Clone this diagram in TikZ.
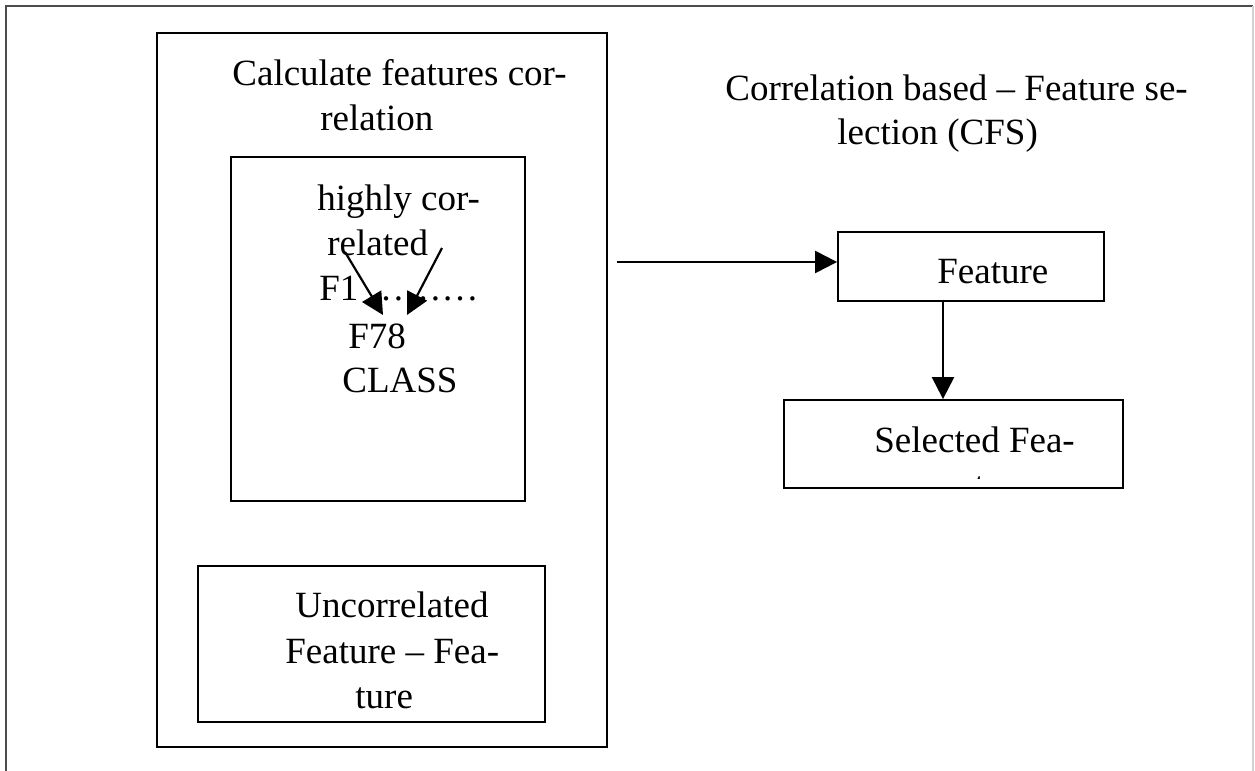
\documentclass[tikz,border=0pt]{standalone}
\usepackage{fontspec}
\setmainfont{Liberation Serif}
\usepackage{tikz}
\usetikzlibrary{arrows.meta}

\begin{document}
\begin{tikzpicture}[x=0.5pt, y=-0.5pt,
        font=\fontsize{18.5}{22.5}\selectfont,
        box/.style={draw, line width=0.9pt, inner sep=0pt},
        arr/.style={draw, line width=1.1pt, -{Triangle[length=11pt, width=11pt]}},
        word/.style={anchor=base west, inner sep=0pt}]
        \useasboundingbox (0,0) rectangle (1255,771);
        \path[draw, gray!60!black, line width=1.4pt] (6,780) -- (6,6) -- (1253,6);
        \path[draw, gray!35, line width=0.8pt] (1253,6) -- (1253,780);

        \node[box, minimum width=225pt, minimum height=357pt] (calc) at (382,390) {};
        \node[box, minimum width=147pt, minimum height=172pt] (corr) at (378,329) {};
        \node[box, minimum width=173.5pt, minimum height=78pt] (uncorr) at (371.5,644) {};
        \node[box, minimum width=133pt, minimum height=34.5pt] (feat) at (971,266.5) {};
        \node[box, minimum width=169.5pt, minimum height=44pt] (sel) at (953.5,444) {};

        \foreach \x/\y/\w [count=\i] in {232/85/Calculate features cor-, 320/130/relation,
                725/100/Correlation based – Feature se-, 837/144/lection (CFS),
                317/210/highly cor-, 327/255/related, 319/300/F1 \ldots\ldots\ldots,
                348/348/F78, 342/392/CLASS,
                295/617/Uncorrelated, 285/663/Feature – Fea-, 355/708/ture,
                937/283/Feature, 874/452/Selected Fea-}{
            \node[word] (w\i) at (\x,\y) {\w};
        }
        \begin{scope}
            \clip (sel.north west) rectangle (1123,478);
            \node[word] (w15) at (974,497) {ture};
        \end{scope}

        \coordinate (a1) at (345,252);
        \coordinate (b1) at (383,315);
        \coordinate (a2) at (442,248);
        \coordinate (b2) at (407,315);
        \coordinate (out) at (617,262);
        \coordinate (down) at (943,0);
        \path[arr] (a1) -- (b1);
        \path[arr] (a2) -- (b2);
        \path[arr] (out) -- (out -| feat.west);
        \path[arr] (feat.south -| down) -- (sel.north -| down);
    \end{tikzpicture}
\end{document}
